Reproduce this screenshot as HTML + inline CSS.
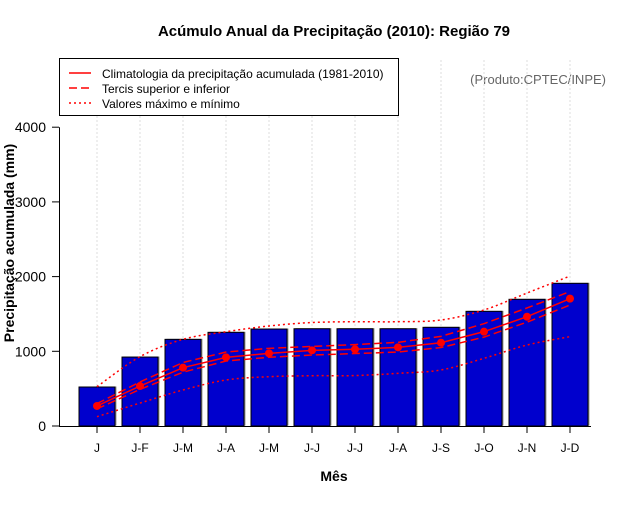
<!DOCTYPE html>
<html><head><meta charset="utf-8"><style>
body{margin:0;background:#fff}
svg text{font-family:"Liberation Sans",sans-serif}
</style></head><body>
<svg width="640" height="500" viewBox="0 0 640 500" xmlns="http://www.w3.org/2000/svg">
<rect width="640" height="500" fill="#fff"/>
<text x="334" y="36" text-anchor="middle" font-size="15" font-weight="bold">Acúmulo Anual da Precipitação (2010): Região 79</text>
<text x="606" y="84" text-anchor="end" font-size="13" fill="#666">(Produto:CPTEC/INPE)</text>
<g id="grid"></g>
<g id="bars"></g>
<g id="lines"></g>
<g id="axes"></g>
<text x="334" y="481" text-anchor="middle" font-size="14" font-weight="bold">Mês</text>
<text transform="translate(14,243) rotate(-90)" text-anchor="middle" font-size="14" font-weight="bold">Precipitação acumulada (mm)</text>
<g>
<rect x="59.5" y="58.5" width="339" height="57" fill="#fff" stroke="#000"/>
<line x1="69" y1="73" x2="91" y2="73" stroke="red" stroke-width="1.5"/>
<text x="102" y="78" font-size="12">Climatologia da precipitação acumulada (1981-2010)</text>
<line x1="69" y1="88" x2="91" y2="88" stroke="red" stroke-width="1.5" stroke-dasharray="8,4"/>
<text x="102" y="93" font-size="12">Tercis superior e inferior</text>
<line x1="69" y1="103" x2="91" y2="103" stroke="red" stroke-width="1.5" stroke-dasharray="2,3"/>
<text x="102" y="108" font-size="12">Valores máximo e mínimo</text>
</g>
</svg>
<script>
const categories=["J","J-F","J-M","J-A","J-M","J-J","J-J","J-A","J-S","J-O","J-N","J-D"];
const observed=[522,923,1160,1254,1298,1302,1302,1302,1321,1535,1696,1910];
const climatology=[268,535,781,919,973,1013,1027,1053,1115,1263,1463,1705];
const upperTercile=[300,590,850,990,1040,1065,1090,1120,1200,1370,1580,1800];
const lowerTercile=[230,490,720,870,920,950,970,990,1050,1190,1390,1620];
const maxValues=[526,928,1160,1262,1339,1385,1396,1396,1419,1553,1780,2008];
const minValues=[125,307,482,616,660,673,675,705,750,906,1084,1196];
const yTicks=[0,1000,2000,3000,4000];
const NS="http://www.w3.org/2000/svg";
const X=i=>97+i*43;
const Y=v=>426-v*0.0747;
function mk(tag,attrs,parent){const e=document.createElementNS(NS,tag);for(const k in attrs)e.setAttribute(k,attrs[k]);document.getElementById(parent).appendChild(e);return e;}
categories.forEach((c,i)=>{
 const g=mk("line",{x1:X(i),x2:X(i),y1:60,y2:426,stroke:"#ddd","stroke-dasharray":"2,2"},"grid");
 
 
 const s=mk("rect",{x:X(i)-18+1.5,y:Y(observed[i])-0.5,width:36,height:426-Y(observed[i]),fill:"#999"},"bars");
 
 
 const b=mk("rect",{x:X(i)-18,y:Y(observed[i]),width:36,height:426-Y(observed[i]),fill:"#0000cd",stroke:"#000","stroke-width":1},"bars");
 
 
 const t=mk("line",{x1:X(i),x2:X(i),y1:426,y2:433,stroke:"#000"},"axes");
 
 
 const l=mk("text",{x:X(i),y:452,"text-anchor":"middle","font-size":"12"},"axes");
 l.textContent=c;
 
 
});
function smooth(vals){let pts=vals.map((v,i)=>[X(i),Y(v)]);let d="M"+pts[0][0]+","+pts[0][1];
 for(let i=0;i<pts.length-1;i++){const p0=pts[Math.max(0,i-1)],p1=pts[i],p2=pts[i+1],p3=pts[Math.min(pts.length-1,i+2)];
 d+=" C"+(p1[0]+(p2[0]-p0[0])/6)+","+(p1[1]+(p2[1]-p0[1])/6)+" "+(p2[0]-(p3[0]-p1[0])/6)+","+(p2[1]-(p3[1]-p1[1])/6)+" "+p2[0]+","+p2[1];}
 return d;}
[[maxValues,"series-max"],[minValues,"series-min"]].forEach(([v,n])=>{
 const p=mk("path",{d:smooth(v),fill:"none",stroke:"red","stroke-width":1.5,"stroke-dasharray":"2,3"},"lines");
 
 
});
[[upperTercile,"series-upper-tercile"],[lowerTercile,"series-lower-tercile"]].forEach(([v,n])=>{
 const p=mk("polyline",{points:v.map((y,i)=>X(i)+","+Y(y)).join(" "),fill:"none",stroke:"red","stroke-width":1.5,"stroke-dasharray":"8,4"},"lines");
 
 
});
const cl=mk("polyline",{points:climatology.map((y,i)=>X(i)+","+Y(y)).join(" "),fill:"none",stroke:"red","stroke-width":1.5},"lines");


climatology.forEach((v,i)=>{
 const c=mk("circle",{cx:X(i),cy:Y(v),r:4,fill:"red"},"lines");
 
 
});
const xa=mk("line",{x1:59,x2:591,y1:426.5,y2:426.5,stroke:"#000"},"axes");


const ya=mk("line",{x1:59.5,x2:59.5,y1:Y(4000),y2:426,stroke:"#000"},"axes");


yTicks.forEach(v=>{
 const t=mk("line",{x1:52,x2:59,y1:Y(v),y2:Y(v),stroke:"#000"},"axes");
 
 
 const l=mk("text",{x:46,y:Y(v)+5,"text-anchor":"end","font-size":"14"},"axes");
 l.textContent=v;
 
 
});
</script>
</body></html>
